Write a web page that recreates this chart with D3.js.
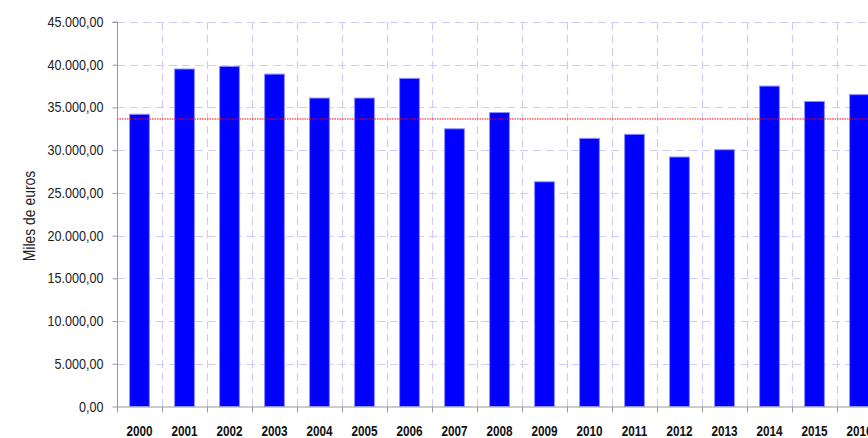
<!DOCTYPE html>
<html><head><meta charset="utf-8">
<script src="https://cdn.jsdelivr.net/npm/d3@7"></script>
<style>
html,body{margin:0;padding:0;background:#fff;overflow:hidden;}
text{font-family:"Liberation Sans",Arial,sans-serif;}
</style></head>
<body>
<svg id="c" width="868" height="438"></svg>
<script>
const years = ["2000","2001","2002","2003","2004","2005","2006","2007","2008","2009","2010","2011","2012","2013","2014","2015","2016"];
const values = [34200,39500,39800,38900,36100,36100,38400,32500,34400,26300,31380,31850,29200,30050,37500,35700,36500];
const average = 33650;
const yTicks = [0,5000,10000,15000,20000,25000,30000,35000,40000,45000];
const yTitle = "Miles de euros";

(function(){
const svg = d3.select("#c");
const left = 117, topY = 22, bottom = 406.5, band = 45;
const x = d3.scaleBand().domain(years).range([left, left + band*years.length]).paddingInner(0.56).paddingOuter(0.28);
const y = d3.scaleLinear().domain([0,45000]).range([bottom, topY]);
const fmt = v => d3.format(",.2f")(v).replace(/,/g,"#").replace(/\./g,",").replace(/#/g,".");

const grid = svg.append("g");
grid.selectAll("line.h").data(yTicks.filter(d=>d>0)).join("line")
  .attr("x1", left).attr("x2", 868).attr("y1", d=>Math.round(y(d))+0.5).attr("y2", d=>Math.round(y(d))+0.5)
  .attr("stroke","#ccccff").attr("stroke-width",1.2).attr("stroke-dasharray","8,5");
const bounds = years.map((d,i)=> left + band*(i+1));
grid.selectAll("line.v").data(bounds).join("line")
  .attr("x1", d=>d+0.5).attr("x2", d=>d+0.5).attr("y1", topY).attr("y2", bottom)
  .attr("stroke","#ccccff").attr("stroke-width",1.2).attr("stroke-dasharray","8,5");

svg.append("g").selectAll("rect").data(years).join("rect")
  .attr("x", d=>x(d)).attr("width", x.bandwidth())
  .attr("y", (d,i)=>y(values[i])).attr("height",(d,i)=>bottom - y(values[i]))
  .attr("fill","#0000ff").attr("stroke","#8c8cff").attr("stroke-width",1);

svg.append("line").attr("x1",left).attr("x2",868)
  .attr("y1", y(average)).attr("y2", y(average))
  .attr("stroke","#ff0000").attr("stroke-width",1).attr("stroke-dasharray","1.5,1");

const ky = 0.84;
const yAxis = d3.axisLeft(y).tickValues(yTicks).tickFormat(fmt).tickSize(5).tickPadding(9);
const gy = svg.append("g").attr("transform",`translate(${left+0.5},0)`).call(yAxis);
gy.select(".domain").attr("stroke","#999").attr("d",`M-5,${y(45000)}H0V${bottom}`);
gy.selectAll(".tick line").attr("stroke","#999");
gy.selectAll(".tick text").attr("fill","#222").attr("dy","0.3em").style("font-size","15px")
  .attr("x", -14/ky).attr("transform", `scale(${ky},1)`);

svg.append("line").attr("x1",left).attr("x2",868).attr("y1",bottom+0.5).attr("y2",bottom+0.5).attr("stroke","#999");
svg.append("g").selectAll("line").data([left].concat(bounds)).join("line")
  .attr("x1",d=>d+0.5).attr("x2",d=>d+0.5).attr("y1",bottom).attr("y2",bottom+6).attr("stroke","#999");
const kx = 0.81;
svg.append("g").selectAll("text").data(years).join("text")
  .attr("transform", d=>`translate(${x(d)+x.bandwidth()/2},436) scale(${kx},1)`)
  .attr("text-anchor","middle").attr("fill","#111")
  .style("font-size","14.5px").style("font-weight","bold").text(d=>d);

svg.append("text").attr("transform","translate(35,216) rotate(-90) scale(0.82,1)")
  .attr("text-anchor","middle").attr("fill","#222").style("font-size","17px").text(yTitle);
})();
</script>
</body></html>
